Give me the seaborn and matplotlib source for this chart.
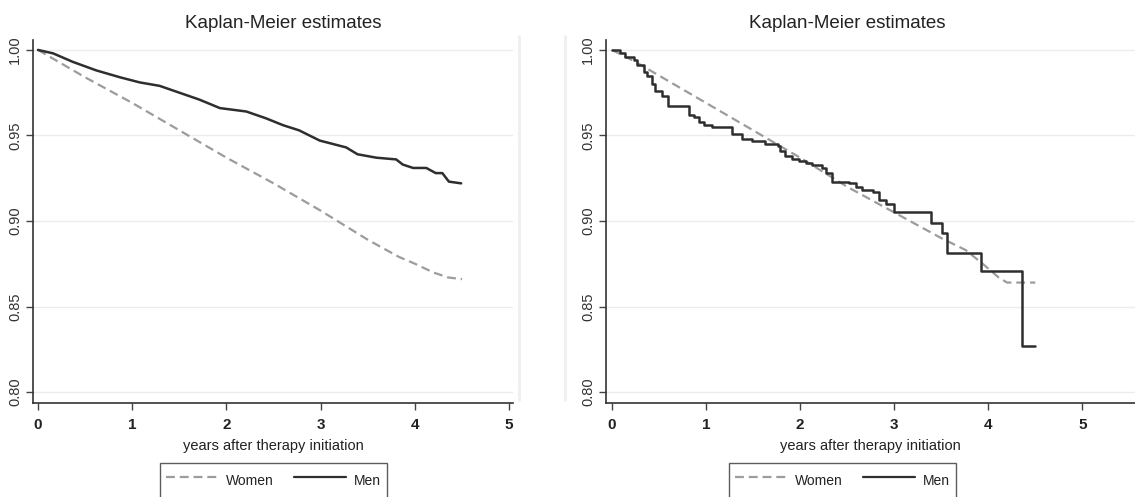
import matplotlib
matplotlib.use("Agg")
import matplotlib.pyplot as plt
import seaborn as sns
import numpy as np
import pandas as pd
from matplotlib.lines import Line2D

# ---------------- data ----------------
title_text = "Kaplan-Meier estimates"
xlabel_text = "years after therapy initiation"
series_names = ["Women", "Men"]
x_ticks = [0, 1, 2, 3, 4, 5]
y_ticks = [0.80, 0.85, 0.90, 0.95, 1.00]
y_tick_labels = ["0.80", "0.85", "0.90", "0.95", "1.00"]

# left panel
left_women_t = [0, 0.5, 1.0, 1.5, 2.0, 2.5, 3.0, 3.5, 3.83, 4.0, 4.19, 4.35, 4.5]
left_women_s = [1.0, 0.984, 0.969, 0.953, 0.937, 0.922, 0.906, 0.889, 0.879, 0.875, 0.870, 0.867, 0.866]

left_men_t = [0, 0.16, 0.37, 0.62, 0.87, 1.08, 1.29, 1.50, 1.71, 1.93, 2.07, 2.21, 2.42, 2.60,
              2.77, 2.99, 3.13, 3.27, 3.39, 3.59, 3.80, 3.87, 3.98, 4.12, 4.22, 4.29, 4.36, 4.49]
left_men_s = [1.0, 0.998, 0.993, 0.988, 0.984, 0.981, 0.979, 0.975, 0.971, 0.966, 0.965, 0.964, 0.960, 0.956,
              0.953, 0.947, 0.945, 0.943, 0.939, 0.937, 0.936, 0.933, 0.931, 0.931, 0.928, 0.928, 0.923, 0.922]

# right panel
right_women_t = [0, 0.25, 0.5, 1.0, 1.5, 2.0, 2.5, 3.0, 3.5, 3.76, 3.94, 4.11, 4.2, 4.5]
right_women_s = [1.0, 0.993, 0.985, 0.969, 0.953, 0.937, 0.920, 0.905, 0.890, 0.883, 0.875, 0.867, 0.864, 0.864]

right_men_t = [0, 0.09, 0.14, 0.23, 0.27, 0.34, 0.37, 0.43, 0.46, 0.53, 0.60, 0.82, 0.87, 0.92, 0.98,
               1.06, 1.28, 1.38, 1.49, 1.63, 1.76, 1.79, 1.84, 1.91, 1.99, 2.06, 2.13, 2.23, 2.27,
               2.34, 2.52, 2.59, 2.66, 2.77, 2.84, 2.91, 3.00, 3.39, 3.51, 3.56, 3.92, 4.36, 4.50]
right_men_s = [1.0, 0.998, 0.996, 0.994, 0.991, 0.987, 0.985, 0.980, 0.976, 0.973, 0.967, 0.962, 0.961, 0.958, 0.956,
               0.955, 0.951, 0.948, 0.947, 0.945, 0.944, 0.941, 0.938, 0.936, 0.935, 0.934, 0.933, 0.931, 0.928,
               0.923, 0.922, 0.920, 0.918, 0.917, 0.912, 0.910, 0.905, 0.899, 0.893, 0.881, 0.871, 0.827, 0.827]

women_color = "#9c9c9c"
men_color = "#2e2e2e"
text_color = "#222222"

# ---------------- style ----------------
sns.set_style("white")
plt.rcParams["font.family"] = ["Liberation Sans", "DejaVu Sans"]

W, H = 1135, 497
fig = plt.figure(figsize=(W / 100, H / 100), dpi=100)

def px_axes(left, right, top, bottom):
    return fig.add_axes([left / W, 1 - bottom / H, (right - left) / W, (bottom - top) / H])

# faint panel-region borders (Stata graph region)
for xb in [519, 565]:
    fig.add_artist(Line2D([xb / W, xb / W], [1 - 36 / H, 1 - 400 / H], color="#efefef", lw=2.0, zorder=0))

ax1 = px_axes(33, 513, 40, 403)
ax2 = px_axes(606, 1135, 40, 403)

panels = [
    (ax1, left_women_t, left_women_s, left_men_t, left_men_s, (-0.053, 5.04), "line"),
    (ax2, right_women_t, right_women_s, right_men_t, right_men_s, (-0.064, 5.56), "steps"),
]

for ax, wt, ws, mt, ms, xl, kind in panels:
    ax.patch.set_alpha(0)
    for yv in y_ticks:
        ax.axhline(yv, color="#ececec", lw=1.0, zorder=0)
    dfw = pd.DataFrame({"t": wt, "s": ws})
    dfm = pd.DataFrame({"t": mt, "s": ms})
    ds = "steps-post" if kind == "steps" else "default"
    sns.lineplot(data=dfw, x="t", y="s", ax=ax, color=women_color, lw=1.6,
                 linestyle=(0, (4, 2.2)), estimator=None, sort=False, drawstyle="default")
    sns.lineplot(data=dfm, x="t", y="s", ax=ax, color=men_color, lw=1.8,
                 estimator=None, sort=False, drawstyle=ds)
    ax.set_xlim(*xl)
    ax.set_ylim(0.7936, 1.0058)
    ax.set_xticks(x_ticks)
    ax.set_xticklabels([str(v) for v in x_ticks], fontsize=11, fontweight="bold", color=text_color)
    ax.set_yticks(y_ticks)
    ax.set_yticklabels(y_tick_labels, rotation=90, va="center", fontsize=10.5, color="#333333")
    ax.tick_params(axis="both", direction="out", length=5, width=1, color="#444444", left=True, bottom=True)
    ax.tick_params(axis="y", pad=3)
    ax.tick_params(axis="x", pad=6)
    for sp in ["top", "right"]:
        ax.spines[sp].set_visible(False)
    for sp in ["left", "bottom"]:
        ax.spines[sp].set_color("#333333")
        ax.spines[sp].set_linewidth(1.2)
    ax.set_xlabel(xlabel_text, fontsize=10.5, color=text_color, labelpad=5)
    ax.set_ylabel("")
    ax.grid(False)

# titles (figure coords)
fig.text(283 / W, 1 - 23 / H, title_text, ha="center", va="center", fontsize=13.5, color=text_color)
fig.text(847 / W, 1 - 23 / H, title_text, ha="center", va="center", fontsize=13.5, color=text_color)

# legends
handles = [Line2D([], [], color=women_color, lw=1.6, linestyle=(0, (4, 2.2))),
           Line2D([], [], color=men_color, lw=1.6)]
for cx in [273.5, 842.5]:
    leg = fig.legend(handles, series_names, loc="upper center", bbox_to_anchor=(cx / W, 1 - 463 / H),
                     ncol=2, frameon=True, fancybox=False, fontsize=10, handlelength=3.7,
                     handleheight=2.1, columnspacing=1.5, borderpad=0.45, handletextpad=0.6,
                     borderaxespad=0)
    leg.get_frame().set_edgecolor("#333333")
    leg.get_frame().set_linewidth(1.0)
    for t in leg.get_texts():
        t.set_color(text_color)

fig.savefig("out.png", dpi=100)
